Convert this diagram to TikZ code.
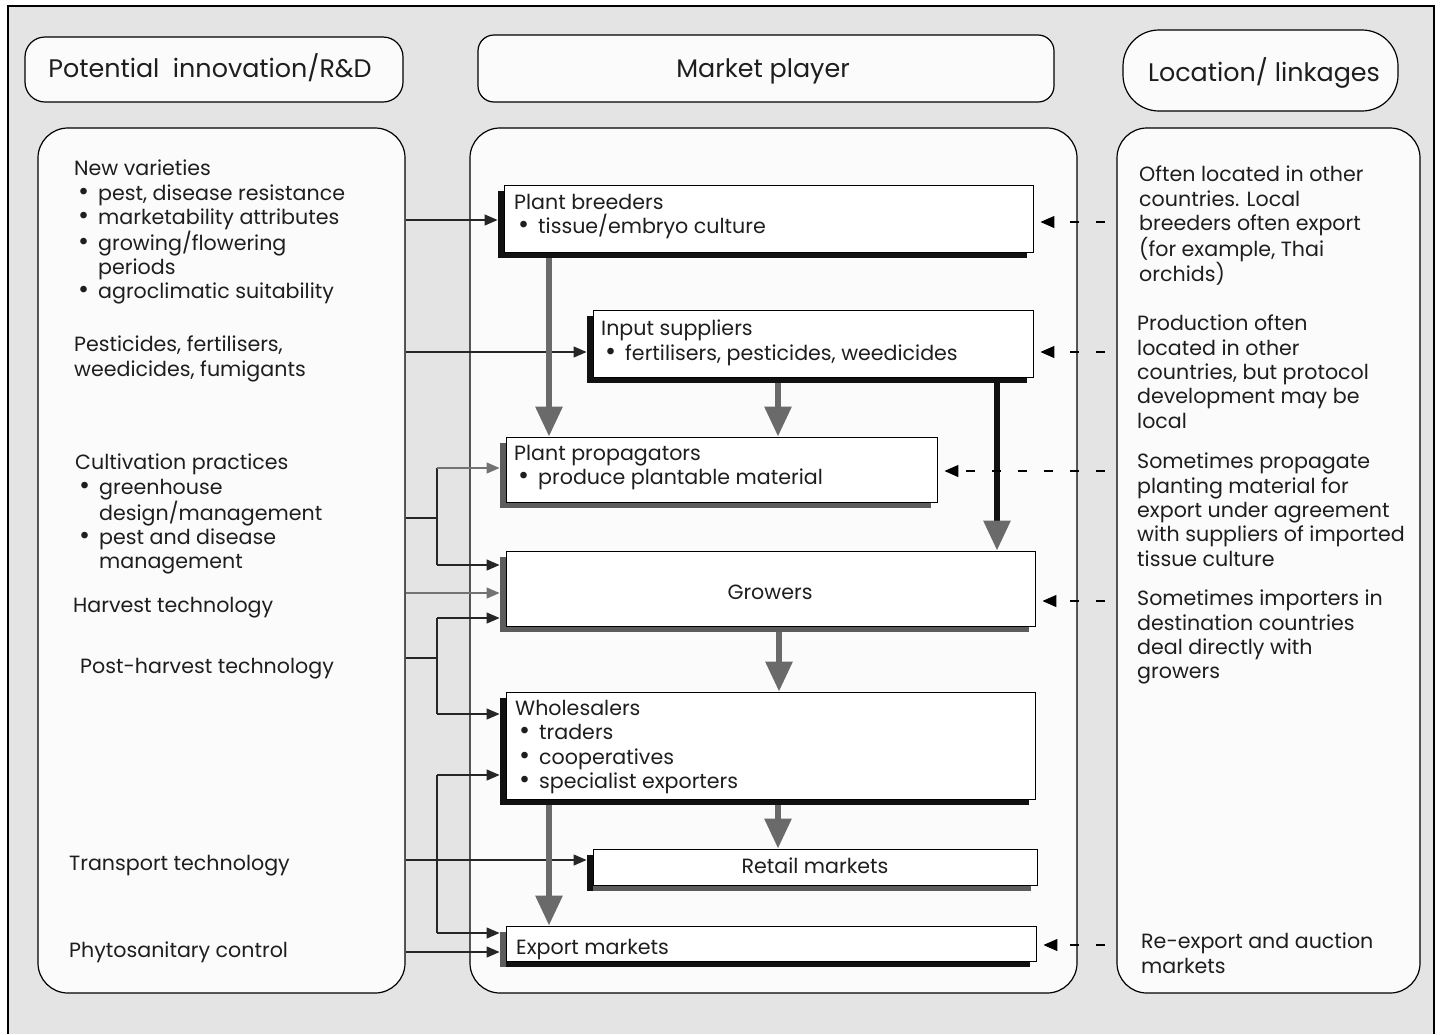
\documentclass[tikz,border=0pt]{standalone}
\usepackage{fontspec}
\setmainfont{Poppins}
\usetikzlibrary{arrows.meta,fit,calc}
\definecolor{bgc}{HTML}{E4E4E4}
\definecolor{pnl}{HTML}{FBFBFB}
\definecolor{txc}{HTML}{1E1E1E}
\definecolor{fatg}{HTML}{6A6A6A}
\definecolor{shg}{HTML}{5C5C5C}
\definecolor{shk}{HTML}{111111}
\newcommand\bul{\hspace*{4pt}\makebox[20pt][l]{\scalebox{1.3}{\textbullet}}}
\newcommand\ind{\hspace*{24pt}}
\newcommand\shadowbox[7]{%
  \fill[#7] (#2-6,#3+6) rectangle (#4-6,#5+6);
  \fill[#6] (#2-6,#3+6) rectangle (#2,#5+6);
  \node[mbx, fit={(#2,#3)(#4,#5)}] (#1) {};}
\begin{document}
\begin{tikzpicture}[x=1pt,y=-1pt,
  every node/.style={text=txc},
  txt/.style={font=\fontsize{20.6}{24.3}\selectfont, align=left, inner sep=0pt, anchor=north west,
    execute at begin node={\rule{0pt}{20pt}}},
  hdrtxt/.style={font=\fontsize{25.4}{28}\selectfont, inner sep=0pt, anchor=base},
  hdr/.style={draw=black, line width=1.2pt, fill=pnl, inner sep=0pt},
  pan/.style={draw=black, line width=1.2pt, fill=pnl, inner sep=0pt, rounded corners=30pt},
  mbx/.style={draw=black, line width=0.9pt, fill=white, inner sep=0pt},
  ln/.style={draw=black!85, line width=1.3pt},
  arr/.style={ln, -{Triangle[length=13pt,width=11pt]}, shorten >=6pt},
  garr/.style={draw=black!55, line width=1.3pt, -{Triangle[length=13pt,width=11pt]}, shorten >=6pt},
  dsh/.style={draw=black, line width=1.3pt, dash pattern=on 9pt off 17pt, -{Triangle[length=14pt,width=12pt]}, shorten >=7pt},
  fat/.style={draw=fatg, line width=6pt, -{Triangle[length=30pt,width=26pt]}},
  fatk/.style={draw=shk, line width=6pt, -{Triangle[length=30pt,width=26pt,color=fatg]}}
]
\useasboundingbox (0,0) rectangle (1440,1034);
\fill[white] (0,0) rectangle (1440,1034);
\fill[bgc] (8,6) rectangle (1434,1034);
\draw[line width=1.2pt] (8,1034) -- (8,6) -- (1434,6) -- (1434,1034);

% headers
\node[hdr, rounded corners=20pt, fit={(25,37)(403,102)}] (h1) {};
\node[hdr, rounded corners=16pt, fit={(478,35)(1054,102)}] (h2) {};
\node[hdr, rounded corners=36pt, fit={(1123,30)(1398,111)}] (h3) {};
\node[hdrtxt] (h1t) at (210,77) {Potential\ \ innovation/R\&D};
\node[hdrtxt] (h2t) at (763,77) {Market player};
\node[hdrtxt] (h3t) at (1264,81) {Location/ linkages};

% panels
\node[pan, fit={(38,128)(405,993)}] (lp) {};
\node[pan, fit={(470,128)(1077,993)}] (mp) {};
\node[pan, fit={(1117,128)(1420,993)}] (rp) {};

% market boxes
\shadowbox{brd}{504}{185}{1033}{252}{shk}{shk}
\shadowbox{inp}{593}{310}{1033}{377}{shk}{shk}
\shadowbox{prp}{506}{437}{937}{502}{shg}{shg}
\shadowbox{grw}{506}{551}{1035}{626}{shg}{shg}
\shadowbox{whl}{506}{692}{1035}{799}{shk}{shk}
\shadowbox{rtl}{593}{849}{1037}{885}{shk}{shg}
\shadowbox{exm}{506}{926}{1036}{961}{shg}{shk}

\node[txt] (brdt) at (514,194) {Plant breeders\\\bul tissue/embryo culture};
\node[txt] (inpt) at (601,320) {Input suppliers\\\bul fertilisers, pesticides, weedicides};
\node[txt] (prpt) at (514,445) {Plant propagators\\\bul produce plantable material};
\node[txt, anchor=base, execute at begin node={}] (grwt) at (770,599) {Growers};
\node[txt] (whlt) at (515,700) {Wholesalers\\\bul traders\\\bul cooperatives\\\bul specialist exporters};
\node[txt, anchor=base, execute at begin node={}] (rtlt) at (815,873) {Retail markets};
\node[txt] (exmt) at (516,934) {Export markets};

% left panel texts
\node[txt] (nv) at (74,160) {New varieties\\\bul pest, disease resistance\\\bul marketability attributes\\\bul growing/flowering\\\ind periods\\\bul agroclimatic suitability};
\node[txt] (pf) at (74,336) {Pesticides, fertilisers,\\weedicides, fumigants};
\node[txt] (cp) at (75,454) {Cultivation practices\\\bul greenhouse\\\ind design/management\\\bul pest and disease\\\ind management};
\node[txt] (ht) at (73,592) {Harvest technology};
\node[txt] (ph) at (80,653) {Post-harvest technology};
\node[txt] (tt) at (69,850) {Transport technology};
\node[txt] (pc) at (69,937) {Phytosanitary control};

% right panel texts
\node[txt] (r1) at (1139,166) {Often located in other\\countries. Local\\breeders often export\\(for example, Thai\\orchids)};
\node[txt] (r2) at (1137,315) {Production often\\located in other\\countries, but protocol\\development may be\\local};
\node[txt] (r3) at (1137,453) {Sometimes propagate\\planting material for\\export under agreement\\with suppliers of imported\\tissue culture};
\node[txt] (r4) at (1137,590) {Sometimes importers in\\destination countries\\deal directly with\\growers};
\node[txt] (r5) at (1141,933) {Re-export and auction\\markets};

% left connectors
\draw[arr] (lp.east |- 0,220) -- (brd.west |- 0,220);
\draw[arr] (lp.east |- 0,352) -- (inp.west |- 0,352);
\draw[ln] (lp.east |- 0,518) -- (437,518);
\draw[ln] (437,468) -- (437,565);
\draw[garr] (437,468) -- (prp.west |- 0,468);
\draw[arr] (437,565) -- (grw.west |- 0,565);
\draw[garr] (lp.east |- 0,593) -- (grw.west |- 0,593);
\draw[ln] (lp.east |- 0,658) -- (437,658);
\draw[ln] (437,618) -- (437,714);
\draw[arr] (437,618) -- (grw.west |- 0,618);
\draw[arr] (437,714) -- (whl.west |- 0,714);
\draw[arr] (lp.east |- 0,860) -- (rtl.west |- 0,860);
\draw[ln] (437,775) -- (437,933);
\draw[arr] (437,775) -- (whl.west |- 0,775);
\draw[arr] (437,933) -- (exm.west |- 0,933);
\draw[arr] (lp.east |- 0,952) -- (exm.west |- 0,952);

% fat arrows
\draw[fat] (549,258) -- (prp.north -| 549,0);
\draw[fat] (778,383) -- (prp.north -| 778,0);
\draw[fatk] (997,383) -- (grw.north -| 997,0);
\draw[fat] (779,632) -- (whl.north -| 779,0);
\draw[fat] (778,805) -- (rtl.north -| 778,0);
\draw[fat] (549,805) -- (exm.north -| 549,0);

% dashed links
\draw[dsh] (1105,222) -- (brd.east |- 0,222);
\draw[dsh] (1105,352) -- (inp.east |- 0,352);
\draw[dsh] (1105,471) -- (prp.east |- 0,471);
\draw[dsh] (1105,601) -- (grw.east |- 0,601);
\draw[dsh] (1105,945) -- (exm.east |- 0,945);
\end{tikzpicture}
\end{document}
